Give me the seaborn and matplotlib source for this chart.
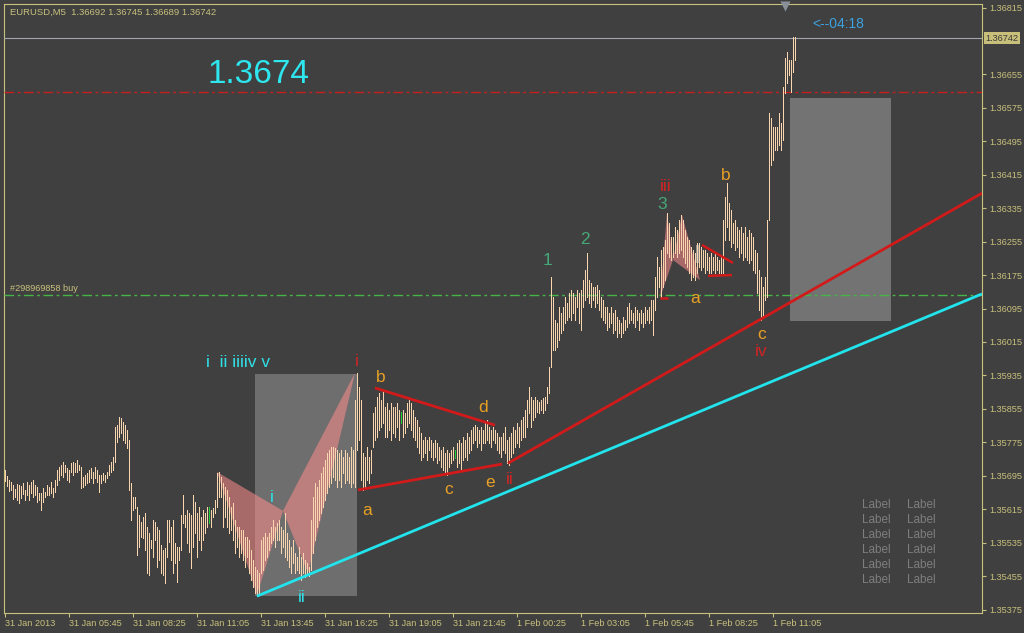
import numpy as np
import pandas as pd
import matplotlib
matplotlib.use("Agg")
import matplotlib.pyplot as plt
import seaborn as sns
from matplotlib.patches import Polygon, Rectangle
import matplotlib.transforms as mtransforms

# ---------------- data ----------------
HEADER = "EURUSD,M5  1.36692 1.36745 1.36689 1.36742"
LAST_PRICE = 1.36742

# bar highs / lows in price points: price = 1 + pts / 1e5   (M5 bars, oldest first)
HIGH_PTS = [
    35709, 35695, 35685, 35680, 35673, 35663, 35675, 35673, 35671, 35678,
    35661, 35680, 35673, 35680, 35685, 35673, 35668, 35654, 35654, 35666,
    35656, 35673, 35668, 35680, 35666, 35685, 35709, 35716, 35721, 35728,
    35721, 35714, 35709, 35726, 35728, 35726, 35733, 35721, 35716, 35692,
    35697, 35702, 35709, 35714, 35704, 35716, 35709, 35697, 35697, 35702,
    35697, 35704, 35721, 35728, 35740, 35811, 35816, 35835, 35833, 35823,
    35816, 35804, 35781, 35678, 35644, 35644, 35620, 35601, 35584, 35596,
    35606, 35572, 35558, 35541, 35589, 35584, 35572, 35565, 35529, 35517,
    35522, 35589, 35589, 35572, 35589, 35534, 35524, 35524, 35601, 35649,
    35601, 35613, 35606, 35601, 35649, 35632, 35606, 35620, 35596, 35613,
    35606, 35620, 35620, 35613, 35618, 35637, 35702, 35704, 35692, 35678,
    35668, 35661, 35644, 35620, 35630, 35589, 35572, 35572, 35565, 35565,
    35548, 35548, 35541, 35517, 35493, 35477, 35470, 35463, 35541, 35548,
    35558, 35548, 35558, 35572, 35589, 35572, 35582, 35589, 35572, 35565,
    35606, 35558, 35541, 35524, 35541, 35510, 35500, 35524, 35500, 35510,
    35493, 35486, 35477, 35589, 35644, 35678, 35668, 35685, 35702, 35716,
    35733, 35750, 35757, 35764, 35764, 35762, 35757, 35750, 35757, 35740,
    35757, 35750, 35740, 35764, 35757, 35876, 35941, 35907, 35876, 35750,
    35740, 35764, 35740, 35757, 35845, 35859, 35883, 35893, 35876, 35900,
    35859, 35869, 35852, 35869, 35859, 35859, 35869, 35852, 35847, 35852,
    35845, 35869, 35881, 35869, 35852, 35835, 35828, 35811, 35797, 35781,
    35788, 35781, 35788, 35781, 35774, 35781, 35774, 35764, 35757, 35764,
    35750, 35757, 35750, 35757, 35764, 35757, 35774, 35781, 35774, 35788,
    35781, 35797, 35788, 35804, 35811, 35816, 35811, 35804, 35811, 35804,
    35821, 35828, 35811, 35804, 35811, 35804, 35797, 35788, 35788, 35797,
    35811, 35781, 35788, 35797, 35811, 35804, 35821, 35811, 35828, 35835,
    35852, 35876, 35907, 35883, 35876, 35883, 35876, 35871, 35876, 35881,
    35883, 35907, 35955, 36170, 36123, 36068, 36061, 36099, 36084, 36099,
    36123, 36108, 36132, 36139, 36132, 36123, 36139, 36132, 36139, 36163,
    36187, 36228, 36163, 36156, 36146, 36146, 36151, 36139, 36123, 36115,
    36099, 36099, 36084, 36099, 36084, 36091, 36075, 36068, 36061, 36075,
    36068, 36099, 36108, 36091, 36084, 36099, 36091, 36084, 36091, 36084,
    36099, 36091, 36099, 36115, 36115, 36170, 36218, 36194, 36235, 36242,
    36259, 36324, 36300, 36266, 36266, 36290, 36283, 36307, 36319, 36307,
    36283, 36266, 36259, 36242, 36235, 36228, 36252, 36252, 36242, 36235,
    36235, 36228, 36218, 36228, 36218, 36228, 36218, 36211, 36218, 36307,
    36362, 36395, 36347, 36331, 36300, 36307, 36290, 36283, 36290, 36276,
    36290, 36266, 36283, 36276, 36266, 36235, 36228, 36187, 36170, 36146,
    36170, 36307, 36563, 36551, 36529, 36529, 36529, 36563, 36539, 36625,
    36694, 36709, 36689, 36689, 36744, 36745,
]
LOW_PTS = [
    35683, 35671, 35659, 35661, 35639, 35644, 35637, 35630, 35642, 35651,
    35637, 35649, 35637, 35654, 35644, 35649, 35632, 35637, 35613, 35632,
    35644, 35649, 35649, 35654, 35644, 35656, 35673, 35685, 35697, 35692,
    35704, 35685, 35680, 35704, 35697, 35704, 35704, 35709, 35666, 35668,
    35673, 35678, 35680, 35690, 35678, 35690, 35680, 35656, 35678, 35685,
    35680, 35690, 35697, 35704, 35709, 35728, 35776, 35788, 35797, 35781,
    35774, 35762, 35661, 35589, 35613, 35618, 35505, 35524, 35548, 35546,
    35517, 35463, 35458, 35522, 35500, 35541, 35477, 35493, 35463, 35458,
    35439, 35500, 35536, 35493, 35463, 35486, 35441, 35493, 35517, 35582,
    35572, 35534, 35512, 35475, 35524, 35558, 35500, 35541, 35517, 35541,
    35558, 35572, 35582, 35572, 35596, 35606, 35620, 35644, 35644, 35572,
    35596, 35572, 35558, 35565, 35541, 35510, 35524, 35500, 35510, 35493,
    35477, 35500, 35463, 35446, 35429, 35415, 35408, 35412, 35463, 35470,
    35493, 35500, 35517, 35534, 35541, 35524, 35541, 35541, 35510, 35524,
    35500, 35493, 35477, 35463, 35486, 35463, 35470, 35463, 35446, 35463,
    35453, 35463, 35456, 35470, 35510, 35541, 35572, 35589, 35606, 35620,
    35637, 35654, 35668, 35678, 35692, 35685, 35668, 35685, 35668, 35702,
    35678, 35685, 35678, 35668, 35678, 35668, 35757, 35781, 35685, 35661,
    35668, 35685, 35678, 35702, 35764, 35781, 35788, 35804, 35811, 35821,
    35788, 35788, 35804, 35781, 35797, 35788, 35811, 35781, 35821, 35788,
    35797, 35811, 35821, 35804, 35788, 35781, 35764, 35750, 35733, 35740,
    35750, 35733, 35757, 35740, 35733, 35740, 35726, 35733, 35716, 35709,
    35702, 35697, 35716, 35726, 35733, 35738, 35716, 35726, 35709, 35733,
    35740, 35733, 35750, 35757, 35774, 35781, 35764, 35774, 35757, 35774,
    35774, 35781, 35774, 35764, 35781, 35774, 35757, 35750, 35740, 35757,
    35750, 35726, 35721, 35740, 35750, 35764, 35774, 35764, 35781, 35788,
    35788, 35811, 35845, 35811, 35828, 35835, 35847, 35845, 35852, 35845,
    35852, 35869, 35893, 35955, 35996, 35996, 36003, 36020, 36037, 36044,
    36061, 36068, 36075, 36068, 36084, 36068, 36099, 36061, 36044, 36099,
    36115, 36123, 36108, 36099, 36115, 36099, 36108, 36091, 36075, 36068,
    36061, 36044, 36051, 36061, 36037, 36044, 36027, 36037, 36027, 36037,
    36044, 36051, 36061, 36068, 36061, 36051, 36068, 36044, 36061, 36051,
    36061, 36068, 36061, 36068, 36032, 36091, 36123, 36146, 36123, 36146,
    36163, 36228, 36218, 36211, 36218, 36228, 36218, 36228, 36235, 36218,
    36204, 36194, 36180, 36163, 36170, 36163, 36180, 36194, 36187, 36194,
    36180, 36187, 36180, 36180, 36187, 36180, 36187, 36180, 36180, 36180,
    36259, 36290, 36259, 36242, 36252, 36235, 36242, 36218, 36228, 36211,
    36218, 36211, 36204, 36211, 36187, 36180, 36132, 36091, 36068, 36075,
    36115, 36123, 36307, 36438, 36450, 36474, 36474, 36486, 36474, 36498,
    36611, 36635, 36654, 36613, 36661, 36689,
]
GREEN_BARS = [102, 198, 225]

TIME_LABEL_BARS = [0, 32, 64, 96, 128, 160, 192, 224, 256, 288, 320, 352, 384]
TIME_LABELS = ["31 Jan 2013", "31 Jan 05:45", "31 Jan 08:25", "31 Jan 11:05",
               "31 Jan 13:45", "31 Jan 16:25", "31 Jan 19:05", "31 Jan 21:45",
               "1 Feb 00:25", "1 Feb 03:05", "1 Feb 05:45", "1 Feb 08:25",
               "1 Feb 11:05"]
PRICE_TICKS = [1.35375, 1.35455, 1.35535, 1.35615, 1.35695, 1.35775, 1.35855,
               1.35935, 1.36015, 1.36095, 1.36175, 1.36255, 1.36335, 1.36415,
               1.36495, 1.36575, 1.36655, 1.36815]

# drawn objects anchored in (bar index, price)
CYAN_TREND = [(126, 1.35407), (488.5, 1.36130)]
RED_TREND = [(251.5, 1.35725), (488.5, 1.36371)]
TRI_UPPER = [(185, 1.35905), (245, 1.35816)]
TRI_LOWER = [(176.5, 1.35661), (248.5, 1.35723)]
SMALL_UPPER = [(348.5, 1.36247), (364, 1.36204)]
SMALL_LOWER = [(351.5, 1.36173), (363.5, 1.36175)]
SMALL_MARK = [(327.5, 1.36120), (331.5, 1.36120)]
BOX_LEFT = (125, 176, 1.35407, 1.35938)
BOX_RIGHT = (392.5, 443, 1.36065, 1.36599)
GREY_TICK = (345.5, 347, 1.36204, 1.36247)
PATTERN_LEFT = [[(106, 1.35704), (139, 1.35611), (126, 1.35410)],
                [(139, 1.35611), (175, 1.35941), (151.5, 1.35462)]]
PATTERN_RIGHT = [[(327.5, 1.36120), (331, 1.36324), (334, 1.36211)],
                 [(334, 1.36211), (338.5, 1.36319), (347.5, 1.36163)]]
RED_LEVEL = 1.36613
ORDER_LEVEL = 1.36127
ORDER_TEXT = "#298969858 buy"
BIG_PRICE = ("1.3674", 126.5, 1.36654)
COUNTDOWN = ("<--04:18", 403.5, 1.36776)

WAVE_LABELS = [
    ("i  ii iiiiv v", 116.5, 1.35965, "cyan"),
    ("i", 176, 1.35969, "red"),
    ("i", 133.5, 1.35644, "cyan"),
    ("ii", 148.5, 1.35403, "cyan"),
    ("a", 181, 1.35613, "orange"),
    ("b", 188, 1.35929, "orange"),
    ("c", 222, 1.35661, "orange"),
    ("d", 239, 1.35859, "orange"),
    ("e", 242.5, 1.35680, "orange"),
    ("ii", 252.5, 1.35687, "red"),
    ("1", 271.5, 1.36211, "green"),
    ("2", 290, 1.36259, "green"),
    ("3", 328.5, 1.36345, "green"),
    ("iii", 330.5, 1.36388, "red"),
    ("b", 360.5, 1.36414, "orange"),
    ("a", 345, 1.36118, "orange"),
    ("c", 378.5, 1.36034, "orange"),
    ("iv", 378, 1.35993, "red"),
]

# ---------------- style ----------------
BG = "#404040"
KHAKI = "#c8c07c"
BAR_COLOR = "#fad6b0"
GREEN_BAR = "#22d03a"
LABEL_COLORS = {"cyan": "#2ee0e6", "red": "#d02424", "orange": "#e8a024",
                "green": "#46a878"}

sns.set_style("dark", rc={"axes.facecolor": BG, "figure.facecolor": BG})
plt.rcParams["font.family"] = ["Liberation Sans", "DejaVu Sans"]

fig = plt.figure(figsize=(10.24, 6.33), dpi=100, facecolor=BG)
ax = fig.add_axes([4 / 1024, 20 / 633, 978 / 1024, 609 / 633])
ax.set_facecolor(BG)

n = min(len(HIGH_PTS), len(LOW_PTS))
idx = np.arange(n)
hi = 1 + np.array(HIGH_PTS[:n]) / 1e5
lo = 1 + np.array(LOW_PTS[:n]) / 1e5
kind = np.where(np.isin(idx, GREEN_BARS), "green", "bar")
df = pd.DataFrame({
    "bar": np.repeat(idx, 2),
    "price": np.column_stack([lo, hi]).ravel(),
    "kind": np.repeat(kind, 2),
})

# background objects
for (x0, x1, p0, p1), col in [(BOX_LEFT, "#6e6e6e"), (BOX_RIGHT, "#737373")]:
    ax.add_patch(Rectangle((x0, p0), x1 - x0, p1 - p0, fc=col, ec="none", zorder=1))
for tri in PATTERN_LEFT + PATTERN_RIGHT:
    ax.add_patch(Polygon(tri, closed=True, fc="#ff8c8c", alpha=0.55, ec="none", zorder=2))
gx0, gx1, gp0, gp1 = GREY_TICK
ax.add_patch(Rectangle((gx0, gp0), gx1 - gx0, gp1 - gp0, fc="#8c8c8c", ec="none", zorder=2))

ax.axhline(LAST_PRICE, color="#a2a6ac", lw=0.8, zorder=3)
ax.axhline(RED_LEVEL, color="#c81e1e", lw=1.0, ls=(0, (7, 2.5, 2, 2.5)), zorder=3)
ax.axhline(ORDER_LEVEL, color="#46b446", lw=1.0, ls=(0, (7, 2.5, 2, 2.5)), zorder=3)

# price bars
sns.lineplot(data=df, x="bar", y="price", units="bar", estimator=None, hue="kind",
             palette={"bar": BAR_COLOR, "green": GREEN_BAR}, legend=False,
             lw=0.6, sort=False, ax=ax, antialiased=False, zorder=4)

# trend lines
for seg, col, lw in [(CYAN_TREND, "#22e4ec", 2.0), (RED_TREND, "#d21a1a", 2.0),
                     (TRI_UPPER, "#d21a1a", 2.0), (TRI_LOWER, "#d21a1a", 2.0),
                     (SMALL_UPPER, "#d21a1a", 1.8), (SMALL_LOWER, "#d21a1a", 1.8),
                     (SMALL_MARK, "#d21a1a", 1.8)]:
    xs, ys = zip(*seg)
    ax.plot(xs, ys, color=col, lw=lw, zorder=5, solid_capstyle="butt")

# texts
for txt, x, p, c in WAVE_LABELS:
    ax.text(x, p, txt, color=LABEL_COLORS[c], fontsize=12.5, ha="center", va="center", zorder=6)
ax.text(BIG_PRICE[1], BIG_PRICE[2], BIG_PRICE[0], color="#2ee6ee", fontsize=24,
        ha="center", va="center", zorder=6)
ax.text(COUNTDOWN[1], COUNTDOWN[2], COUNTDOWN[0], color="#3ca2e2", fontsize=10,
        ha="left", va="center", zorder=6)
ax.annotate(ORDER_TEXT, xy=(2.5, ORDER_LEVEL), xytext=(0, 1.5), textcoords="offset points",
            color=KHAKI, fontsize=6.6, ha="left", va="bottom", zorder=6)
ax.text(0.006, 0.987, HEADER, transform=ax.transAxes, color=KHAKI, fontsize=6.8,
        ha="left", va="center", zorder=6)

for r in range(6):
    yfrac = (613 - (505 + 15 * r)) / 609
    for xpix in (876, 921):
        ax.text((xpix - 4) / 978, yfrac, "Label", transform=ax.transAxes,
                color="#7e7e7e", fontsize=8.5, ha="center", va="center", zorder=6)

# chart-shift marker
trans = mtransforms.blended_transform_factory(ax.transData, ax.transAxes)
ax.plot([390], [0.996], marker="v", ms=7, color="#8a9098", mec="none",
        transform=trans, clip_on=False, zorder=7)

# axes
ax.set_xlim(-0.5, 488.5)
ax.set_ylim(1.353667, 1.368234)
ax.set_xlabel("")
ax.set_ylabel("")
ax.grid(False)
for s in ax.spines.values():
    s.set_visible(True)
    s.set_color(KHAKI)
    s.set_linewidth(0.8)

ax.set_yticks(PRICE_TICKS)
ax.set_yticklabels([f"{p:.5f}" for p in PRICE_TICKS])
ax.tick_params(axis="y", left=False, right=True, labelleft=False, labelright=True,
               colors=KHAKI, labelsize=6.6, length=3, width=0.8, pad=2, direction="out")
ax.set_xticks(TIME_LABEL_BARS)
ax.set_xticklabels(TIME_LABELS)
ax.tick_params(axis="x", bottom=True, colors=KHAKI, labelsize=6.6, length=3,
               width=0.8, pad=1.5, direction="out")
for lbl in ax.get_xticklabels():
    lbl.set_ha("left")

ax.annotate(f"{LAST_PRICE:.5f}", xy=(1.0, LAST_PRICE), xycoords=ax.get_yaxis_transform(),
            xytext=(2.5, 0), textcoords="offset points", va="center", ha="left",
            fontsize=6.6, color="#3a3a3a", annotation_clip=False, zorder=8,
            bbox=dict(boxstyle="square,pad=0.2", fc="#c8c07a", ec="none"))

fig.savefig("out.png", dpi=100, facecolor=BG)
